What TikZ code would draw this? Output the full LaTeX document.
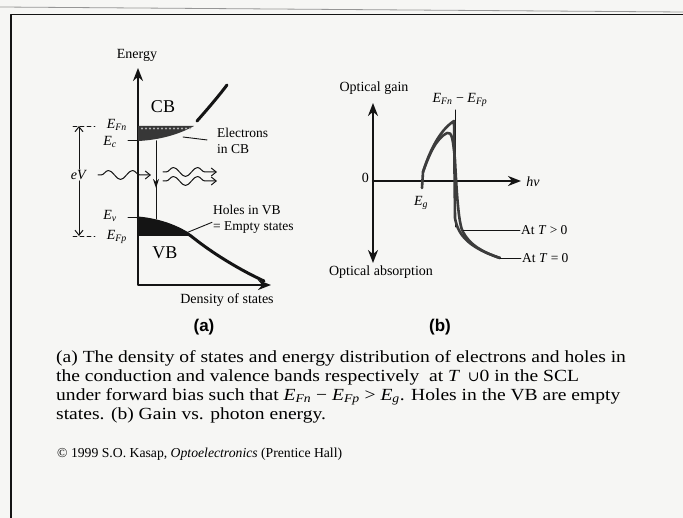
\documentclass[tikz,border=0pt]{standalone}
\usepackage{fontspec}
\setmainfont{Liberation Serif}
\newfontfamily\capfont[FakeStretch=1.15]{Liberation Serif}
\newfontfamily\panelfont{Liberation Sans}
\newfontfamily\symfont{DejaVu Serif}
\usetikzlibrary{arrows.meta,decorations.pathmorphing}

\begin{document}
\begin{tikzpicture}[x=1pt,y=-1pt,line cap=round,line join=round,
    lbl/.style={font=\fontsize{14}{16}\selectfont,inner sep=1pt},
    smalllbl/.style={font=\fontsize{13.5}{16}\selectfont,inner sep=1pt,align=left},
    bandlbl/.style={font=\fontsize{18}{20}\selectfont,inner sep=1pt},
    panellbl/.style={font=\panelfont\bfseries\fontsize{17}{19}\selectfont,inner sep=1pt},
    captext/.style={font=\capfont\fontsize{17}{19}\selectfont,anchor=north west,inner sep=0pt,align=left},
    axisline/.style={line width=2.4pt},
    bigtip/.style={-{Stealth[length=13pt,width=10pt]}},
    bigtips/.style={{Stealth[length=13pt,width=10pt]}-{Stealth[length=13pt,width=10pt]}},
    fineline/.style={line width=1pt},
    leader/.style={line width=0.9pt},
    fermidash/.style={line width=0.9pt,dash pattern=on 4pt off 3pt},
    dosline/.style={line width=3pt},
    gaincurve/.style={line width=2.6pt,draw=curve},
    photon/.style={line width=1pt,decorate,
      decoration={snake,amplitude=4.5pt,segment length=24pt,pre length=3pt,post length=9pt},
      -{Straight Barb[length=5pt,width=8pt]}}]
  \definecolor{paper}{RGB}{246,246,244}
  \definecolor{ink}{RGB}{20,20,20}
  \definecolor{curve}{RGB}{60,60,60}
  \definecolor{rulegray}{RGB}{150,150,150}

  % page and frame
  \fill[paper] (0,0) rectangle (683,518);
  \useasboundingbox (0,0) rectangle (683,518);
  \draw[rulegray,line width=0.8pt] (0,7) -- (683,12);
  \draw[ink,line width=1.6pt] (11,518) -- (11,14.5) -- (683,14.5);

  % (a) energy vs density of states
  \draw[ink,axisline,bigtips] (138,68) -- (138,285) -- (271,285);
  \node[lbl] (energy) at (137,55) {Energy};
  \node[lbl] (dos) at (227,300) {Density of states};
  \node[bandlbl] (cb) at (163,107) {CB};
  \node[bandlbl] (vb) at (165,253) {VB};

  % electrons in CB
  \fill[ink!85] (138,126) -- (194,126) .. controls (180,134) and (160,140) .. (138,141) -- cycle;
  \foreach \x in {142,146,...,190} { \fill[gray!60] (\x,128.5) circle (1.1); }
  \draw[ink,dosline] (197,121) .. controls (205,112) and (218,97) .. (227,85);

  % holes in VB
  \fill[ink] (138,218) .. controls (160,220) and (178,227) .. (191,236) -- (138,236) -- cycle;
  \draw[ink,dosline] (138,218) .. controls (160,220) and (178,227) .. (191,236)
    .. controls (212,253) and (240,270) .. (264,281);

  % levels
  \draw[ink,fermidash] (73,126) -- (95,126);
  \draw[ink,fermidash] (73,236) -- (95,236);
  \draw[ink,fineline] (128,141) -- (138,141);
  \draw[ink,fineline] (128,218) -- (138,218);
  \node[lbl,anchor=east] (efn) at (128,125) {\textit{E}\textsubscript{\textit{Fn}}};
  \node[lbl,anchor=east] (ec) at (118,142) {\textit{E}\textsubscript{\textit{c}}};
  \node[lbl,anchor=east] (ev) at (118,216) {\textit{E}\textsubscript{\textit{v}}};
  \node[lbl,anchor=east] (efp) at (128,237) {\textit{E}\textsubscript{\textit{Fp}}};

  % eV
  \node[lbl,fill=paper] (evlbl) at (79,175) {\textit{eV}};
  \coordinate (evtop) at (79,126);
  \coordinate (evbot) at (79,236);
  \draw[ink,fineline,-{Straight Barb[length=5pt,width=8pt]}] (evlbl.north) -- (evtop);
  \draw[ink,fineline,-{Straight Barb[length=5pt,width=8pt]}] (evlbl.south) -- (evbot);

  % recombination and photons
  \coordinate (cbedge) at (156,141);
  \coordinate (vbedge) at (156,219);
  \draw[ink,fineline] (cbedge) -- (vbedge);
  \draw[ink,fineline,-{Stealth[length=9pt,width=6pt]}] (cbedge) -- (156,188);
  \draw[ink,photon] (98,175) -- (151,175);
  \draw[ink,photon] (163,172) -- (217,172);
  \draw[ink,photon] (163,181) -- (217,181);

  % labels with leaders
  \node[smalllbl,anchor=north west] (elec) at (216,127) {Electrons\\in CB};
  \coordinate (elecpt) at (183,137);
  \draw[ink,leader] (elecpt) -- ([xshift=-9pt,yshift=1pt]elec.west);
  \node[smalllbl,anchor=north west] (holes) at (212,204) {Holes in VB\\= Empty states};
  \coordinate (holept) at (186,233);
  \draw[ink,leader] (holept) -- ([shift={(0pt,-3pt)}]holes.west);

  \node[panellbl] (pa) at (204,327) {(a)};

  % (b) gain vs photon energy
  \draw[ink,axisline,bigtips] (373,103) -- (373,263);
  \draw[ink,axisline,bigtip] (373,181) -- (521,181);
  \node[lbl] (gain) at (374,88) {Optical gain};
  \node[lbl] (absorp) at (381,272) {Optical absorption};
  \node[lbl,anchor=east] (zero) at (370,178) {0};
  \node[lbl] (hnu) at (533,182) {\textit{hν}};
  \node[lbl] (efdiff) at (460,100) {\textit{E}\textsubscript{\textit{Fn}} − \textit{E}\textsubscript{\textit{Fp}}};
  \node[lbl] (eg) at (421,203) {\textit{E}\textsubscript{\textit{g}}};
  \coordinate (eftop) at (455,110);
  \coordinate (efbot) at (455,227);
  \draw[ink,fineline] (eftop) -- (efbot);

  % gain curves
  \draw[gaincurve] (422,188) -- (423,172) .. controls (430,150) and (440,130) .. (454,121)
    -- (455,218) .. controls (458,236) and (470,248) .. (500,258);
  \draw[gaincurve] (423,172) .. controls (430,152) and (437,138) .. (447,133)
    .. controls (452,131) and (453,140) .. (455,160)
    .. controls (457,200) and (459,225) .. (463,232)
    .. controls (470,245) and (482,252) .. (500,258);

  \node[smalllbl,anchor=west] (tpos) at (520,230) {At \textit{T} > 0};
  \node[smalllbl,anchor=west] (tzero) at (521,258) {At \textit{T} = 0};
  \coordinate (tpospt) at (463,230);
  \coordinate (tzeropt) at (500,258);
  \draw[ink,leader] (tpospt) -- (tpos.west);
  \draw[ink,leader] (tzeropt) -- (tzero.west);

  \node[panellbl] (pb) at (440,327) {(b)};

  % caption
  \node[captext] (caption) at (56,348.7) {\strut(a) The density of states and energy distribution of electrons and holes in\\
    the conduction and valence bands respectively \ at \textit{T} \,{\symfont\fontsize{14}{19}\selectfont ∪}0 in the SCL\\
    under forward bias such that \textit{E}\textsubscript{\textit{Fn}} − \textit{E}\textsubscript{\textit{Fp}} > \textit{E}\textsubscript{\textit{g}}. Holes in the VB are empty\\
    states. (b) Gain vs. photon energy.};
  \node[font=\fontsize{13.7}{16}\selectfont,anchor=base west,inner sep=0pt] (copy) at (57,458)
    {© 1999 S.O. Kasap, \textit{Optoelectronics} (Prentice Hall)};
\end{tikzpicture}
\end{document}
